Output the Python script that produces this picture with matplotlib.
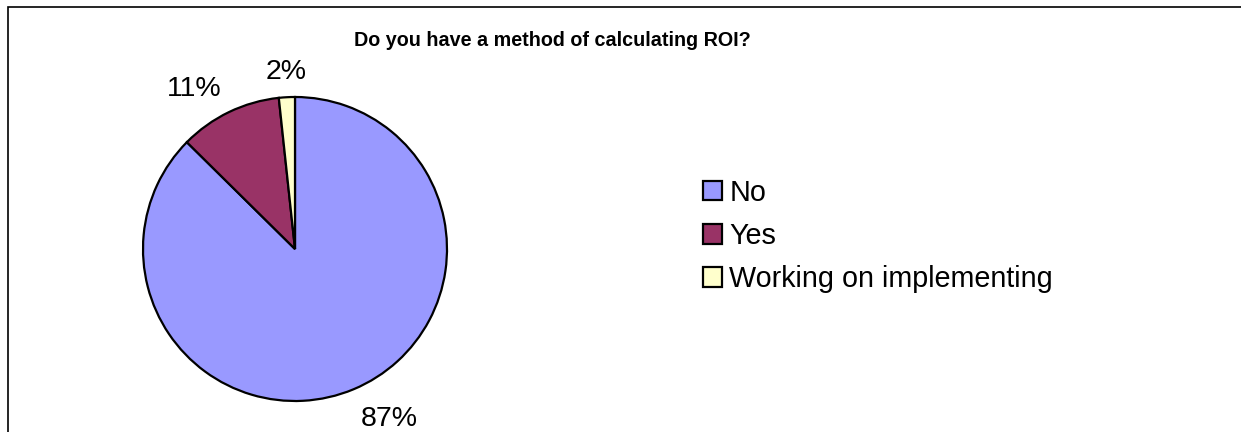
import matplotlib
matplotlib.use("Agg")
import numpy as np
import matplotlib.pyplot as plt
from matplotlib.patches import Rectangle

# =========================
# DATA
# =========================

categories = ["No", "Yes", "Working on implementing"]
shares = [87.4, 10.9, 1.7]
colors = ["#9999FF", "#993366", "#FFFFCC"]
title = "Do you have a method of calculating ROI?"

plt.rcParams["font.family"] = ["Liberation Sans", "DejaVu Sans"]

W, H = 1241, 432
fig = plt.figure(figsize=(W / 100, H / 100), dpi=100)

# pie axes: centre (295, 249) px from top-left, radius 152 px
cx, cy, r = 295, 249, 152
ax = fig.add_axes([(cx - r) / W, (H - cy - r) / H, 2 * r / W, 2 * r / H])

wedges, texts = ax.pie(
    shares,
    colors=colors,
    startangle=90,
    counterclock=False,
    wedgeprops=dict(edgecolor="black", linewidth=1.6),
)
ax.set_xlim(-1, 1)
ax.set_ylim(-1, 1)
ax.set_aspect("auto")

# percentage labels just outside each wedge (Excel "outside end" style)
total = sum(shares)
for w, v in zip(wedges, shares):
    mid = np.deg2rad((w.theta1 + w.theta2) / 2)
    ux, uy = np.cos(mid), np.sin(mid)
    d = 1.12
    if ux > 0.1:
        ha = "left"
    elif ux < -0.1:
        ha = "right"
    else:
        ha = "center"
    va = "baseline" if uy > 0 else "top"
    ax.text(d * ux, d * uy, f"{v / total * 100:.0f}%", ha=ha, va=va,
            fontsize=20.5)

# title
fig.text(552 / W, 1 - 40 / H, title, ha="center", va="center",
         fontsize=14.2, fontweight="bold")

# legend
fig.legend(
    wedges, categories,
    loc="center left",
    bbox_to_anchor=(703 / W, 1 - 236 / H),
    frameon=False,
    fontsize=20.7,
    handlelength=0.66,
    handleheight=0.66,
    handletextpad=0.25,
    labelspacing=0.53,
    borderaxespad=0,
    borderpad=0,
)

# outer chart border (right and bottom edges fall outside the image)
fig.patches.append(Rectangle((7.5 / W, -0.1), 2, 1.1 - 7.5 / H,
                             transform=fig.transFigure, fill=False,
                             edgecolor="black", linewidth=1.2))

fig.savefig("out.png", dpi=100, facecolor="white")
